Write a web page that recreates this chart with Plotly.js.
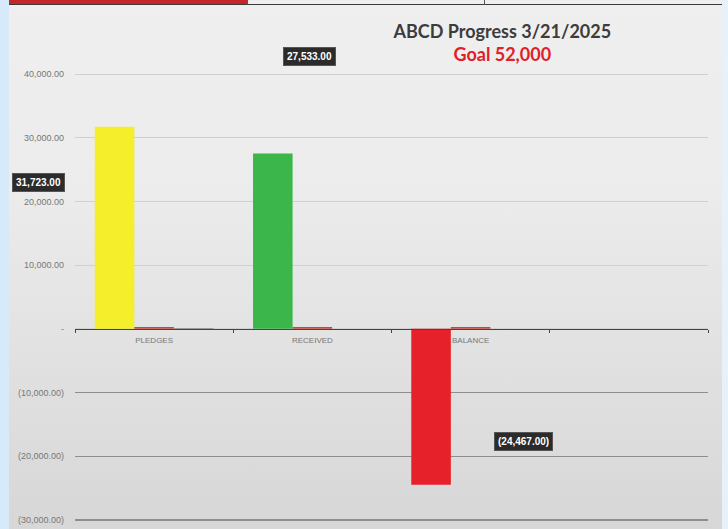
<!DOCTYPE html>
<html><head><meta charset="utf-8">
<script src="https://cdn.plot.ly/plotly-3.0.1.min.js"></script>
<style>
html,body{margin:0;padding:0;width:728px;height:529px;overflow:hidden;background:#d6eafa;}
#frame{position:absolute;left:9px;top:0;width:713px;height:529px;
  background:linear-gradient(to bottom,#efefef 0%,#ececec 35%,#e2e2e2 65%,#d7d7d7 100%);}
#rightstrip{position:absolute;left:722px;top:0;width:6px;height:529px;background:#e6f1fa;}
#topred{position:absolute;left:9px;top:0;width:238px;height:4px;background:#c4262b;}
#topline{position:absolute;left:9px;top:4px;width:713px;height:1px;background:#3a3a3a;}
#sep1{position:absolute;left:247px;top:0;width:1px;height:5px;background:#555;}
#sep2{position:absolute;left:484px;top:0;width:1px;height:5px;background:#555;}
#chart{position:absolute;left:0;top:0;width:728px;height:529px;}
</style>
</head><body>
<div id="frame"></div><div id="rightstrip"></div>
<div id="topred"></div><div id="topline"></div><div id="sep1"></div><div id="sep2"></div>
<div id="chart"></div>
<script>
// ---- data ----
const categories = ["PLEDGES", "RECEIVED", "BALANCE"];
const mainValues = [31723, 27533, -24467];
const mainColors = ["#f4ee2b", "#3bb64a", "#e6212a"];
const minorValues = [300, 300, 300];
const thirdValues = [100, null, null];
const yTickValues = [-30000, -20000, -10000, 0, 10000, 20000, 30000, 40000];
const yTickLabels = ["(30,000.00)", "(20,000.00)", "(10,000.00)", "-", "10,000.00", "20,000.00", "30,000.00", "40,000.00"];
const negGridValues = [-30000, -20000, -10000];
const chartTitle = "ABCD Progress 3/21/2025";
const goalText = "Goal 52,000";

const xPos = categories.map((c, i) => i);
const boundaries = [-0.5, 0.5, 1.5, 2.5, 3.5];
const yRange = [-30160, 40160];
const zeroPos = (0 - yRange[0]) / (yRange[1] - yRange[0]);

function fmt(v) {
  const s = Math.abs(v).toLocaleString("en-US", {minimumFractionDigits: 2, maximumFractionDigits: 2});
  return v < 0 ? "(" + s + ")" : s;
}

const traces = [
  {type: "bar", x: xPos, y: mainValues, marker: {color: mainColors}, showlegend: false, hoverinfo: "skip"},
  {type: "bar", x: xPos, y: minorValues, marker: {color: "#c8463a"}, showlegend: false, hoverinfo: "skip"},
  {type: "bar", x: xPos, y: thirdValues, marker: {color: "#666666"}, showlegend: false, hoverinfo: "skip"},
  {type: "scatter", x: [null], y: [null], xaxis: "x2", yaxis: "y2", showlegend: false, hoverinfo: "skip"}
];

const labelBox = {
  bgcolor: "#2b2b2b", bordercolor: "#555", borderwidth: 1, borderpad: 3,
  font: {family: "Liberation Sans, Arial", size: 10, color: "#ffffff", weight: "bold"},
  showarrow: false, xref: "paper", yref: "paper", xanchor: "center", yanchor: "middle"
};

const layout = {
  width: 728, height: 529,
  margin: {l: 75, r: 20, t: 73, b: 8},
  paper_bgcolor: "rgba(0,0,0,0)", plot_bgcolor: "rgba(0,0,0,0)",
  barmode: "group", bargap: 0.25, bargroupgap: 0,
  font: {family: "Liberation Sans, Arial", color: "#777"},
  title: {
    text: chartTitle + "<br><span style='color:#e0202a'>" + goalText + "</span>",
    font: {family: "Lato, Open Sans, sans-serif", size: 18, color: "#3c3c3c", weight: "bold"},
    x: 0.69, xanchor: "center", y: 0.928, yanchor: "top", yref: "container"
  },
  xaxis: {
    range: [-0.5, 3.5], tickmode: "array", tickvals: xPos, ticktext: categories,
    anchor: "free", position: zeroPos, showgrid: false, zeroline: false,
    showline: true, linecolor: "#444", linewidth: 1, ticks: "",
    tickfont: {size: 8, color: "#777"}, ticklabelstandoff: 4, fixedrange: true
  },
  xaxis2: {
    range: [-0.5, 3.5], overlaying: "x", anchor: "free", position: zeroPos,
    tickmode: "array", tickvals: boundaries, ticks: "outside", ticklen: 3, tickcolor: "#444",
    showticklabels: false, showgrid: false, zeroline: false, showline: false
  },
  yaxis: {
    range: yRange, tickmode: "array", tickvals: yTickValues, ticktext: yTickLabels,
    showgrid: true, gridcolor: "#d0d0d0", gridwidth: 1, zeroline: false, showline: false,
    ticks: "", tickfont: {size: 9, color: "#777"}, ticklabelstandoff: 10
  },
  yaxis2: {
    range: yRange, overlaying: "y", side: "left", tickmode: "array", tickvals: negGridValues,
    showgrid: true, gridcolor: "#8e8e8e", gridwidth: 1.5, zeroline: false, showline: false,
    showticklabels: false, ticks: ""
  },
  annotations: [
    Object.assign({}, labelBox, {text: fmt(mainValues[0]), x: -0.058, y: 0.756}),
    Object.assign({}, labelBox, {text: fmt(mainValues[1]), x: 0.371, y: 1.036}),
    Object.assign({}, labelBox, {text: fmt(mainValues[2]), x: 0.709, y: 0.177})
  ]
};

Plotly.newPlot("chart", traces, layout, {displayModeBar: false, staticPlot: true});
</script>
</body></html>
